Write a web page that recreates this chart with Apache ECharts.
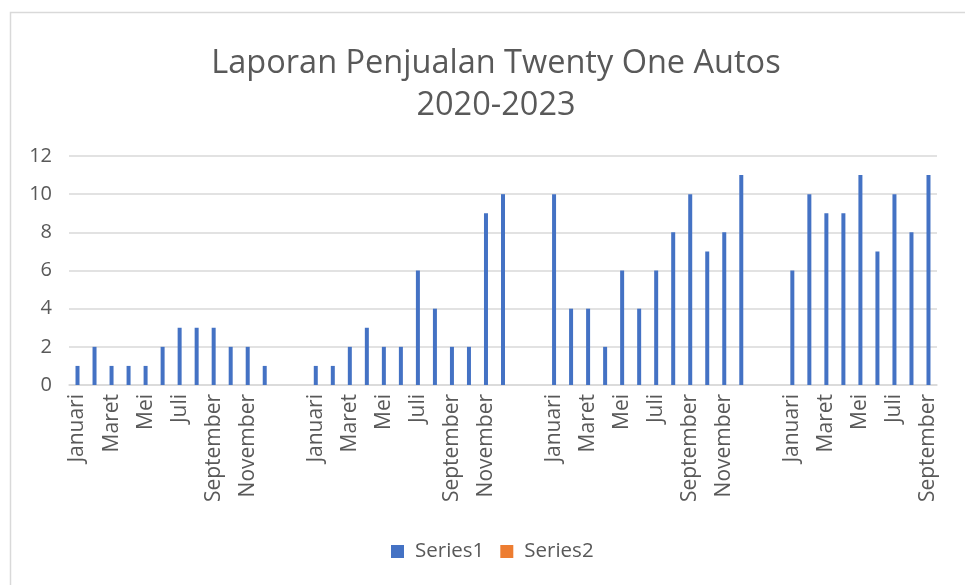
<!DOCTYPE html>
<html>
<head>
<meta charset="utf-8">
<script src="https://cdn.jsdelivr.net/npm/echarts@6/dist/echarts.min.js"></script>
<style>html,body{margin:0;padding:0;background:#fff;overflow:hidden}#c{width:965px;height:585px}</style>
</head>
<body>
<div id="c"></div>
<script>
const months = ['Januari','Februari','Maret','April','Mei','Juni','Juli','Agustus','September','Oktober','November','Desember'];
const gapLabels = ['', ''];
const sales2020 = [1,2,1,1,1,2,3,3,3,2,2,1];
const sales2021 = [1,1,2,3,2,2,6,4,2,2,9,10];
const sales2022 = [10,4,4,2,6,4,6,8,10,7,8,11];
const sales2023 = [6,10,9,9,11,7,10,8,11];
const gapValues = [null, null];
const yTicks = {min: 0, max: 12, interval: 2};

const categories = [].concat(months, gapLabels, months, gapLabels, months, gapLabels, months.slice(0, sales2023.length));
const series1 = [].concat(sales2020, gapValues, sales2021, gapValues, sales2022, gapValues, sales2023);
const series2 = categories.map(() => null);

const FONT = 'Open Sans';
const TXT = '#595959';
const chart = echarts.init(document.getElementById('c'));
chart.setOption({
  animation: false,
  textStyle: {fontFamily: FONT},
  graphic: [{
    type: 'rect', left: 8, top: 10, shape: {width: 1000, height: 620},
    style: {fill: 'none', stroke: '#d9d9d9', lineWidth: 1.5}, silent: true
  }],
  title: {
    text: 'Laporan Penjualan Twenty One Autos\n2020-2023',
    left: 491, top: 38, textAlign: 'center',
    textStyle: {fontFamily: FONT, fontSize: 32.5, fontWeight: 'normal', color: TXT, lineHeight: 42}
  },
  legend: {
    top: 536, left: 386,
    itemWidth: 13, itemHeight: 13, itemGap: 16,
    icon: 'rect',
    textStyle: {fontFamily: FONT, fontSize: 20.5, color: TXT, padding: [0, 0, 0, 6]},
    data: ['Series1', 'Series2']
  },
  grid: {left: 69, right: 28, top: 156, bottom: 200, containLabel: false},
  xAxis: {
    type: 'category', data: categories,
    axisTick: {show: false},
    axisLine: {lineStyle: {color: '#d9d9d9', width: 1.5}},
    axisLabel: {interval: 1, rotate: 90, fontFamily: FONT, fontSize: 21, color: TXT, margin: 9}
  },
  yAxis: {
    type: 'value', min: yTicks.min, max: yTicks.max, interval: yTicks.interval,
    axisLine: {show: false}, axisTick: {show: false},
    splitLine: {lineStyle: {color: '#d9d9d9', width: 1.5}},
    axisLabel: {fontFamily: FONT, fontSize: 20, color: TXT, margin: 17}
  },
  series: [
    {name: 'Series1', type: 'bar', data: series1, barWidth: 4, barGap: '-100%', itemStyle: {color: '#4472c4'}},
    {name: 'Series2', type: 'bar', data: series2, barWidth: 4, itemStyle: {color: '#ed7d31'}}
  ]
});
</script>
</body>
</html>
